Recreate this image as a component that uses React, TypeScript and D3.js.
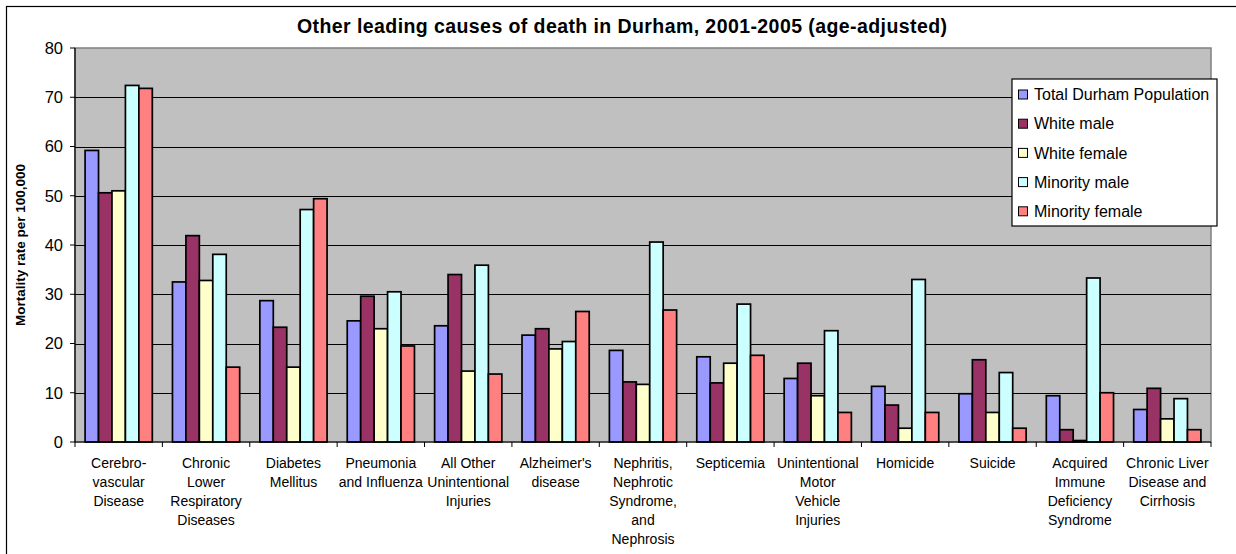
import React, { useEffect, useRef } from "react";
import * as d3 from "d3";

// categories (x axis), wrapped the way the original labels are
const categories = [
  "Cerebro-\nvascular\nDisease",
  "Chronic\nLower\nRespiratory\nDiseases",
  "Diabetes\nMellitus",
  "Pneumonia\nand Influenza",
  "All Other\nUnintentional\nInjuries",
  "Alzheimer's\ndisease",
  "Nephritis,\nNephrotic\nSyndrome,\nand\nNephrosis",
  "Septicemia",
  "Unintentional\nMotor\nVehicle\nInjuries",
  "Homicide",
  "Suicide",
  "Acquired\nImmune\nDeficiency\nSyndrome",
  "Chronic Liver\nDisease and\nCirrhosis",
];

const seriesNames = [
  "Total Durham Population",
  "White male",
  "White female",
  "Minority male",
  "Minority female",
];

const totalDurham = [59.2, 32.5, 28.7, 24.6, 23.6, 21.7, 18.6, 17.3, 12.9, 11.3, 9.8, 9.4, 6.6];
const whiteMale = [50.6, 41.9, 23.3, 29.6, 34.0, 23.0, 12.2, 12.0, 16.0, 7.5, 16.7, 2.5, 10.9];
const whiteFemale = [51.0, 32.8, 15.2, 23.0, 14.4, 18.9, 11.7, 16.0, 9.4, 2.8, 6.0, 0.3, 4.7];
const minorityMale = [72.4, 38.1, 47.2, 30.5, 35.9, 20.4, 40.6, 28.0, 22.6, 33.0, 14.1, 33.3, 8.8];
const minorityFemale = [71.8, 15.2, 49.4, 19.5, 13.8, 26.5, 26.8, 17.6, 6.0, 6.0, 2.8, 10.0, 2.5];

const yTicks = [0, 10, 20, 30, 40, 50, 60, 70, 80];

const colors = ["#9999FF", "#993366", "#FFFFCC", "#CCFFFF", "#FF8080"];

const font = "Arial, 'Liberation Sans', sans-serif";

export default function App() {
  const ref = useRef<SVGSVGElement>(null);

  useEffect(() => {
    const svg = d3.select(ref.current);
    svg.selectAll("*").remove();

    const width = 1236;
    const height = 554;
    const plot = { left: 75, right: 1211, top: 48, bottom: 442 };

    const allSeries = [totalDurham, whiteMale, whiteFemale, minorityMale, minorityFemale];
    const rows = categories.map((c, i) => ({
      cat: c,
      values: allSeries.map((s, j) => ({ key: seriesNames[j], value: s[i], idx: j })),
    }));

    // outer frame
    svg
      .append("rect")
      .attr("x", 6.5)
      .attr("y", 6.5)
      .attr("width", width + 20)
      .attr("height", height + 20)
      .attr("fill", "#fff")
      .attr("stroke", "#000")
      .attr("stroke-width", 1.2);

    const x0 = d3
      .scaleBand()
      .domain(categories)
      .range([plot.left, plot.right])
      .paddingInner(0)
      .paddingOuter(0);
    const x1 = d3
      .scaleBand()
      .domain(seriesNames)
      .range([0, x0.bandwidth()])
      .paddingInner(0)
      .paddingOuter(0.75);
    const y = d3.scaleLinear().domain([0, 80]).range([plot.bottom, plot.top]);

    // plot area
    svg
      .append("rect")
      .attr("x", plot.left)
      .attr("y", plot.top)
      .attr("width", plot.right - plot.left)
      .attr("height", plot.bottom - plot.top)
      .attr("fill", "#C0C0C0")
      .attr("stroke", "#808080")
      .attr("stroke-width", 1.5);

    // gridlines
    svg
      .selectAll(".grid")
      .data(yTicks.filter((t) => t > 0 && t < 80))
      .enter()
      .append("line")
      .attr("x1", plot.left)
      .attr("x2", plot.right)
      .attr("y1", (d) => Math.round(y(d)) + 0.5)
      .attr("y2", (d) => Math.round(y(d)) + 0.5)
      .attr("stroke", "#000")
      .attr("stroke-width", 1.2);

    // bars
    const groups = svg
      .selectAll(".grp")
      .data(rows)
      .enter()
      .append("g")
      .attr("transform", (d) => `translate(${x0(d.cat)},0)`);
    groups
      .selectAll("rect")
      .data((d) => d.values)
      .enter()
      .append("rect")
      .attr("x", (d) => x1(d.key)!)
      .attr("y", (d) => y(d.value))
      .attr("width", x1.bandwidth())
      .attr("height", (d) => plot.bottom - y(d.value))
      .attr("fill", (d) => colors[d.idx])
      .attr("stroke", "#000")
      .attr("stroke-width", 1.7);

    // axes lines
    svg
      .append("line")
      .attr("x1", plot.left)
      .attr("x2", plot.left)
      .attr("y1", plot.top)
      .attr("y2", plot.bottom)
      .attr("stroke", "#000")
      .attr("stroke-width", 1.2);
    svg
      .append("line")
      .attr("x1", plot.left)
      .attr("x2", plot.right)
      .attr("y1", plot.bottom)
      .attr("y2", plot.bottom)
      .attr("stroke", "#000")
      .attr("stroke-width", 1.2);

    // y ticks + labels
    svg
      .selectAll(".ytick")
      .data(yTicks)
      .enter()
      .append("line")
      .attr("x1", plot.left - 5)
      .attr("x2", plot.left)
      .attr("y1", (d) => y(d))
      .attr("y2", (d) => y(d))
      .attr("stroke", "#000");
    svg
      .selectAll(".ylab")
      .data(yTicks)
      .enter()
      .append("text")
      .attr("x", 63)
      .attr("y", (d) => y(d))
      .attr("dy", "0.36em")
      .attr("text-anchor", "end")
      .attr("font-family", font)
      .attr("font-size", 16.5)
      .attr("fill", "#000")
      .text((d) => d);

    // x ticks at group boundaries
    const boundaries = categories.map((c) => x0(c)!).concat([plot.right]);
    svg
      .selectAll(".xtick")
      .data(boundaries)
      .enter()
      .append("line")
      .attr("x1", (d) => d)
      .attr("x2", (d) => d)
      .attr("y1", plot.bottom)
      .attr("y2", plot.bottom + 5)
      .attr("stroke", "#000");

    // category labels
    const catLabels = svg
      .selectAll(".xlab")
      .data(categories)
      .enter()
      .append("text")
      .attr("text-anchor", "middle")
      .attr("font-family", font)
      .attr("font-size", 14)
      .attr("fill", "#000");
    catLabels
      .selectAll("tspan")
      .data((d) => d.split("\n").map((line) => ({ line, cat: d })))
      .enter()
      .append("tspan")
      .attr("x", (d) => x0(d.cat)! + x0.bandwidth() / 2)
      .attr("y", (d, i) => 467.5 + i * 19.2)
      .text((d) => d.line);

    // title
    svg
      .append("text")
      .attr("x", 622)
      .attr("y", 33)
      .attr("text-anchor", "middle")
      .attr("font-family", font)
      .attr("font-size", 19.5)
      .attr("font-weight", "bold")
      .attr("fill", "#000")
      .attr("textLength", 650)
      .attr("lengthAdjust", "spacing")
      .text("Other leading causes of death in Durham, 2001-2005 (age-adjusted)");

    // y axis title
    svg
      .append("text")
      .attr("transform", "translate(25,245) rotate(-90)")
      .attr("text-anchor", "middle")
      .attr("font-family", font)
      .attr("font-size", 13.5)
      .attr("font-weight", "bold")
      .attr("fill", "#000")
      .text("Mortality rate per 100,000");

    // legend
    const legend = svg.append("g").attr("transform", "translate(1012,79)");
    legend
      .append("rect")
      .attr("width", 205)
      .attr("height", 147)
      .attr("fill", "#fff")
      .attr("stroke", "#000")
      .attr("stroke-width", 1.2);
    const items = legend
      .selectAll(".item")
      .data(seriesNames)
      .enter()
      .append("g")
      .attr("transform", (d, i) => `translate(0,${15.5 + i * 29.2})`);
    items
      .append("rect")
      .attr("x", 6.5)
      .attr("y", -4.5)
      .attr("width", 9)
      .attr("height", 9)
      .attr("fill", (d, i) => colors[i])
      .attr("stroke", "#000");
    items
      .append("text")
      .attr("x", 22)
      .attr("dy", "0.36em")
      .attr("font-family", font)
      .attr("font-size", 16)
      .attr("fill", "#000")
      .text((d) => d);
  }, []);

  return (
    <svg
      ref={ref}
      width={1236}
      height={554}
      style={{ position: "absolute", left: 0, top: 0, background: "#fff" }}
    />
  );
}
